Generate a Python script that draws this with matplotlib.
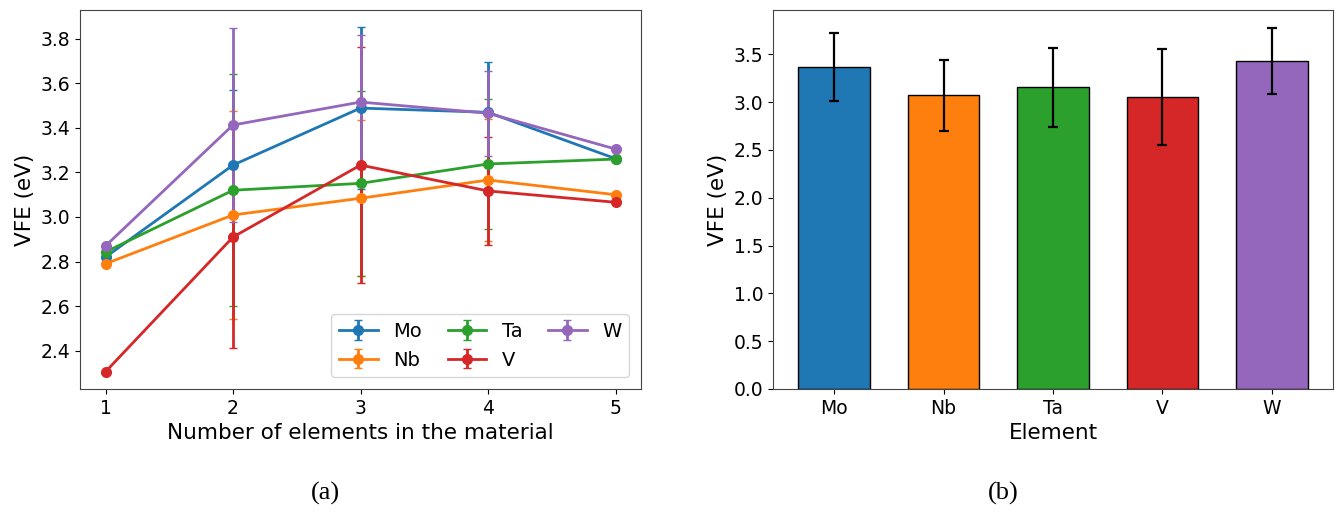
import numpy as np
import matplotlib
matplotlib.use("Agg")
import matplotlib.pyplot as plt

# (a) VFE vs number of elements
n_elements = [1, 2, 3, 4, 5]
names = ["Mo", "Nb", "Ta", "V", "W"]
colors = ["#1f77b4", "#ff7f0e", "#2ca02c", "#d62728", "#9467bd"]

vfe_mo = [2.82, 3.233, 3.489, 3.47, 3.262]
vfe_nb = [2.79, 3.009, 3.084, 3.166, 3.10]
vfe_ta = [2.843, 3.12, 3.151, 3.238, 3.26]
vfe_v = [2.305, 2.91, 3.233, 3.117, 3.066]
vfe_w = [2.87, 3.413, 3.516, 3.466, 3.305]

err_mo = [0.0, 0.337, 0.363, 0.225, 0.0]
err_nb = [0.0, 0.466, 0.35, 0.275, 0.0]
err_ta = [0.0, 0.52, 0.414, 0.29, 0.0]
err_v = [0.0, 0.50, 0.53, 0.243, 0.0]
err_w = [0.0, 0.435, 0.30, 0.19, 0.0]

# (b) average VFE per element
bar_vfe = [3.37, 3.07, 3.155, 3.055, 3.43]
bar_err = [0.358, 0.367, 0.41, 0.50, 0.345]

vals = [vfe_mo, vfe_nb, vfe_ta, vfe_v, vfe_w]
errs = [err_mo, err_nb, err_ta, err_v, err_w]

fig = plt.figure(figsize=(13.35, 5.17), dpi=100)
ax1 = fig.add_axes([80/1335, 1-389/517, 561/1335, 379/517])
ax2 = fig.add_axes([773/1335, 1-389/517, 560/1335, 379/517])

for name, c, v, e in zip(names, colors, vals, errs):
    ax1.errorbar(n_elements, v, yerr=e, label=name, color=c, marker="o",
                 markersize=7, linewidth=2, elinewidth=2, capsize=3)
ax1.set_xticks(n_elements)
ax1.set_xlabel("Number of elements in the material", fontsize=15.5)
ax1.set_ylabel("VFE (eV)", fontsize=15.5)
ax1.tick_params(labelsize=13.5)
ax1.legend(ncol=3, loc="lower right", fontsize=14, handlelength=2.0,
           columnspacing=1.3, borderaxespad=0.6)

ax2.bar(names, bar_vfe, yerr=bar_err, color=colors, edgecolor="black",
        width=0.65, capsize=3.5, error_kw=dict(elinewidth=1.6, capthick=1.6))
ax2.set_xlabel("Element", fontsize=15.5)
ax2.set_ylabel("VFE (eV)", fontsize=15.5)
ax2.tick_params(labelsize=13.5)

for ax in (ax1, ax2):
    for s in ax.spines.values():
        s.set_color("#444444")

fig.text(325/1335, 1-493/517, "(a)", ha="center", va="center",
         fontsize=19, family="Liberation Serif")
fig.text(1003/1335, 1-493/517, "(b)", ha="center", va="center",
         fontsize=19, family="Liberation Serif")

fig.savefig("out.png", dpi=100)
